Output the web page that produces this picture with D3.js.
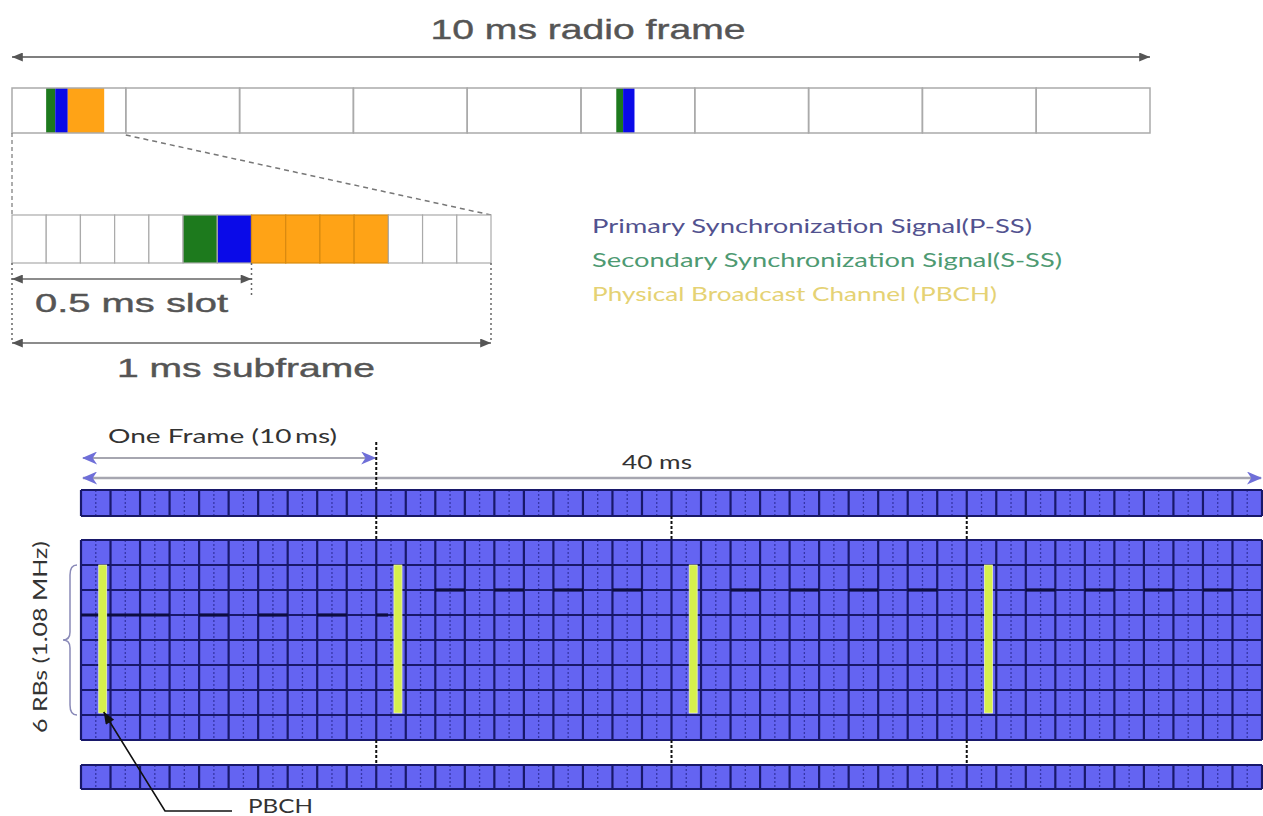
<!DOCTYPE html>
<html>
<head>
<meta charset="utf-8">
<script src="https://cdn.jsdelivr.net/npm/d3@7"></script>
<style>
  body { margin: 0; background: #fff; }
  svg { display: block; }
</style>
</head>
<body>
<svg id="chart"></svg>
<script>
var width = 1263;
var height = 816;

// ---- upper picture: one 10 ms radio frame ----
var frameTitle = '10 ms radio frame';
var subframes = [0, 1, 2, 3, 4, 5, 6, 7, 8, 9];
// [signal, start ms, end ms] inside the radio frame
var frameSignals = [
  ['SSS', 0.30, 0.38], ['PSS', 0.38, 0.49], ['PBCH', 0.49, 0.81],
  ['SSS', 5.31, 5.37], ['PSS', 5.37, 5.47]
];
// OFDM symbols of the zoomed 1 ms subframe
var symbols = [0, 1, 2, 3, 4, 5, 6, 7, 8, 9, 10, 11, 12, 13];
var symbolSignal = ['', '', '', '', '', 'SSS', 'PSS', 'PBCH', 'PBCH', 'PBCH', 'PBCH', '', '', ''];
var slotLabel = '0.5 ms slot';
var subframeLabel = '1 ms subframe';
var legendSignals = ['PSS', 'SSS', 'PBCH'];
var legendLabels = [
  'Primary Synchronization Signal(P-SS)',
  'Secondary Synchronization Signal(S-SS)',
  'Physical Broadcast Channel (PBCH)'
];

// ---- lower picture: 40 ms of resource grid ----
var totalMs = 40;
var frameStartsMs = [0, 10, 20, 30];
var gridRows = 8;
var pbchRows = [1, 7];          // 6 RBs in the centre
var pbchMs = [0.6, 0.87];       // inside each frame
// thicker row edges seen in the grid: [row edge, from ms, to ms]
var boldEdges = [
  [3, 0, 3], [3, 4, 5], [3, 6, 7], [3, 8, 9], [3, 10, 10.4],
  [2, 12, 13], [2, 14, 15], [2, 16, 17], [2, 18, 19],
  [2, 22, 23], [2, 24, 25], [2, 26, 27], [2, 28, 29],
  [2, 32, 33], [2, 34, 35], [2, 36, 37], [2, 38, 39]
];
var oneFrameLabel = 'One Frame (10\u2009ms)';
var fortyLabel = '40 ms';
var rbLabel = '6 RBs (1.08 MHz)';
var pbchLabel = 'PBCH';

var signalColor = { SSS: '#1d7a1d', PSS: '#0a0ae8', PBCH: '#ffa316' };
var legendColor = { PSS: '#52528f', SSS: '#4e9a72', PBCH: '#e5d274' };
var gridBlue = '#6464f2';
var gridLine = '#18186a';

var svg = d3.select('#chart').attr('width', width).attr('height', height);
var defs = svg.append('defs');

defs.append('marker').attr('id', 'grayHead')
  .attr('viewBox', '0 0 12 10').attr('refX', 12).attr('refY', 5)
  .attr('markerUnits', 'userSpaceOnUse').attr('markerWidth', 13).attr('markerHeight', 9)
  .attr('orient', 'auto-start-reverse')
  .append('path').attr('d', 'M0,0 L12,5 L0,10 Z').attr('fill', '#555');

defs.append('marker').attr('id', 'purpleHead')
  .attr('viewBox', '0 0 14 12').attr('refX', 13).attr('refY', 6)
  .attr('markerUnits', 'userSpaceOnUse').attr('markerWidth', 16).attr('markerHeight', 13)
  .attr('orient', 'auto-start-reverse')
  .append('path').attr('d', 'M0,0 L14,6 L0,12 L4,6 Z').attr('fill', '#6f6fd8');

defs.append('marker').attr('id', 'blackHead')
  .attr('viewBox', '0 0 12 10').attr('refX', 12).attr('refY', 5)
  .attr('markerUnits', 'userSpaceOnUse').attr('markerWidth', 13).attr('markerHeight', 10)
  .attr('orient', 'auto')
  .append('path').attr('d', 'M0,0 L12,5 L0,10 Z').attr('fill', '#111');

// ================= upper picture =================
var xFrame = d3.scaleLinear().domain([0, 10]).range([12, 1150]);
var frameTop = 88, frameBottom = 133;

svg.append('text')
  .attr('x', 588).attr('y', 39)
  .attr('text-anchor', 'middle')
  .attr('font-family', 'Liberation Sans, Arial, sans-serif')
  .attr('font-size', 28).attr('fill', '#555')
  .attr('stroke', '#555').attr('stroke-width', 0.4)
  .attr('textLength', 315).attr('lengthAdjust', 'spacingAndGlyphs')
  .text(frameTitle);

svg.append('line')
  .attr('x1', xFrame(0)).attr('x2', xFrame(10)).attr('y1', 57).attr('y2', 57)
  .attr('stroke', '#555').attr('stroke-width', 1.5)
  .attr('marker-start', 'url(#grayHead)').attr('marker-end', 'url(#grayHead)');

var frameG = svg.append('g');
frameG.selectAll('.sig').data(frameSignals).join('rect')
  .attr('class', 'sig')
  .attr('x', function(d) { return xFrame(d[1]); })
  .attr('width', function(d) { return xFrame(d[2]) - xFrame(d[1]); })
  .attr('y', frameTop).attr('height', frameBottom - frameTop)
  .attr('fill', function(d) { return signalColor[d[0]]; });
frameG.selectAll('.sf').data(subframes).join('rect')
  .attr('class', 'sf')
  .attr('x', function(d) { return xFrame(d); })
  .attr('width', xFrame(1) - xFrame(0))
  .attr('y', frameTop).attr('height', frameBottom - frameTop)
  .attr('fill', 'none').attr('stroke', '#aaa').attr('stroke-width', 1.5);

// zoomed subframe
var xSym = d3.scaleLinear().domain([0, 14]).range([12, 491]);
var symTop = 215, symBottom = 263;

svg.append('line')
  .attr('x1', xFrame(0)).attr('y1', frameBottom).attr('x2', xSym(0)).attr('y2', symTop)
  .attr('stroke', '#777').attr('stroke-width', 1.2).attr('stroke-dasharray', '4,3');
svg.append('line')
  .attr('x1', xFrame(1)).attr('y1', frameBottom + 2).attr('x2', xSym(14)).attr('y2', symTop)
  .attr('stroke', '#777').attr('stroke-width', 1.5).attr('stroke-dasharray', '5,4');

var symG = svg.append('g');
symG.selectAll('rect').data(symbols).join('rect')
  .attr('x', function(d) { return xSym(d); })
  .attr('width', xSym(1) - xSym(0))
  .attr('y', symTop).attr('height', symBottom - symTop)
  .attr('fill', function(d) { return symbolSignal[d] ? signalColor[symbolSignal[d]] : '#fff'; })
  .attr('stroke', function(d) { return symbolSignal[d] === 'PBCH' ? '#d88a10' : '#aaa'; })
  .attr('stroke-width', 1.2);

// slot / subframe dimension arrows
var dimColor = '#666';
[[xSym(7), symBottom, 296], [xSym(0), symBottom, 343], [xSym(14), symBottom, 343]].forEach(function(v) {
  svg.append('line')
    .attr('x1', v[0]).attr('x2', v[0]).attr('y1', v[1]).attr('y2', v[2])
    .attr('stroke', dimColor).attr('stroke-width', 1.5).attr('stroke-dasharray', '2,3');
});
svg.append('line')
  .attr('x1', xSym(0)).attr('x2', xSym(7)).attr('y1', 279).attr('y2', 279)
  .attr('stroke', dimColor).attr('stroke-width', 1.5)
  .attr('marker-start', 'url(#grayHead)').attr('marker-end', 'url(#grayHead)');
svg.append('line')
  .attr('x1', xSym(0)).attr('x2', xSym(14)).attr('y1', 343).attr('y2', 343)
  .attr('stroke', dimColor).attr('stroke-width', 1.5)
  .attr('marker-start', 'url(#grayHead)').attr('marker-end', 'url(#grayHead)');

svg.append('text')
  .attr('x', 35).attr('y', 312)
  .attr('font-family', 'Liberation Sans, Arial, sans-serif')
  .attr('font-size', 25).attr('fill', '#555')
  .attr('stroke', '#555').attr('stroke-width', 0.4)
  .attr('textLength', 193).attr('lengthAdjust', 'spacingAndGlyphs')
  .text(slotLabel);
svg.append('text')
  .attr('x', 117).attr('y', 377)
  .attr('font-family', 'Liberation Sans, Arial, sans-serif')
  .attr('font-size', 25).attr('fill', '#555')
  .attr('stroke', '#555').attr('stroke-width', 0.4)
  .attr('textLength', 258).attr('lengthAdjust', 'spacingAndGlyphs')
  .text(subframeLabel);

// legend
var legendWidths = [440, 470, 405];
svg.append('g').selectAll('text').data(legendSignals).join('text')
  .attr('x', 592)
  .attr('y', function(d, i) { return 233 + i * 34; })
  .attr('font-family', 'Lato, Open Sans, sans-serif')
  .attr('font-size', 20)
  .attr('fill', function(d) { return legendColor[d]; })
  .attr('textLength', function(d, i) { return legendWidths[i]; })
  .attr('lengthAdjust', 'spacingAndGlyphs')
  .text(function(d, i) { return legendLabels[i]; });

// ================= lower picture =================
var xGrid = d3.scaleLinear().domain([0, totalMs]).range([81, 1262]);
var yGrid = d3.scaleLinear().domain([0, gridRows]).range([540, 740]);
var strips = [
  { top: 490, bottom: 516, rows: 1 },
  { top: yGrid(0), bottom: yGrid(gridRows), rows: gridRows },
  { top: 765, bottom: 789, rows: 1 }
];
var msList = d3.range(totalMs);

// frame / 40 ms arrows
var arrowGray = '#a6a6b0';
svg.append('line')
  .attr('x1', xGrid(0) + 2).attr('x2', xGrid(10) - 1).attr('y1', 458).attr('y2', 458)
  .attr('stroke', arrowGray).attr('stroke-width', 2)
  .attr('marker-start', 'url(#purpleHead)').attr('marker-end', 'url(#purpleHead)');
svg.append('line')
  .attr('x1', xGrid(0) + 2).attr('x2', xGrid(totalMs) - 1).attr('y1', 478).attr('y2', 478)
  .attr('stroke', arrowGray).attr('stroke-width', 2.5)
  .attr('marker-start', 'url(#purpleHead)').attr('marker-end', 'url(#purpleHead)');

svg.append('text')
  .attr('x', 108).attr('y', 443)
  .attr('font-family', 'Lato, Open Sans, sans-serif')
  .attr('font-size', 20).attr('fill', '#333')
  .attr('textLength', 229).attr('lengthAdjust', 'spacingAndGlyphs')
  .text(oneFrameLabel);
svg.append('text')
  .attr('x', 622).attr('y', 469)
  .attr('font-family', 'Lato, Open Sans, sans-serif')
  .attr('font-size', 20).attr('fill', '#333')
  .attr('textLength', 70).attr('lengthAdjust', 'spacingAndGlyphs')
  .text(fortyLabel);

var gridG = svg.append('g');
strips.forEach(function(s) {
  var g = gridG.append('g');
  var yS = d3.scaleLinear().domain([0, s.rows]).range([s.top, s.bottom]);
  g.append('rect')
    .attr('x', xGrid(0)).attr('width', xGrid(totalMs) - xGrid(0))
    .attr('y', s.top).attr('height', s.bottom - s.top)
    .attr('fill', gridBlue);
  // slot boundaries (dotted)
  g.selectAll('.slot').data(msList).join('line')
    .attr('class', 'slot')
    .attr('x1', function(d) { return xGrid(d + 0.5); })
    .attr('x2', function(d) { return xGrid(d + 0.5); })
    .attr('y1', s.top).attr('y2', s.bottom)
    .attr('stroke', '#2a2a95').attr('stroke-width', 1.3)
    .attr('stroke-dasharray', '2,2').attr('opacity', 0.8);
  // row edges
  g.selectAll('.row').data(d3.range(s.rows + 1)).join('line')
    .attr('class', 'row')
    .attr('x1', xGrid(0)).attr('x2', xGrid(totalMs))
    .attr('y1', function(d) { return yS(d); })
    .attr('y2', function(d) { return yS(d); })
    .attr('stroke', gridLine).attr('stroke-width', 2);
  // subframe boundaries
  g.selectAll('.sf').data(msList.concat([totalMs])).join('line')
    .attr('class', 'sf')
    .attr('x1', function(d) { return xGrid(d); })
    .attr('x2', function(d) { return xGrid(d); })
    .attr('y1', s.top).attr('y2', s.bottom)
    .attr('stroke', gridLine).attr('stroke-width', 2.2);
});

gridG.selectAll('.bold').data(boldEdges).join('line')
  .attr('class', 'bold')
  .attr('x1', function(d) { return xGrid(d[1]); })
  .attr('x2', function(d) { return xGrid(d[2]); })
  .attr('y1', function(d) { return yGrid(d[0]); })
  .attr('y2', function(d) { return yGrid(d[0]); })
  .attr('stroke', '#0d0d40').attr('stroke-width', 3.2);

// frame boundary dotted markers
var frameEdges = frameStartsMs.slice(1);
frameEdges.forEach(function(ms, i) {
  var x = xGrid(ms);
  var spans = [[strips[0].bottom, strips[1].top], [strips[1].bottom, strips[2].top]];
  if (i === 0) spans.push([442, strips[0].top]);
  spans.forEach(function(sp) {
    svg.append('line')
      .attr('x1', x).attr('x2', x).attr('y1', sp[0]).attr('y2', sp[1])
      .attr('stroke', '#111').attr('stroke-width', 2).attr('stroke-dasharray', '3,2');
  });
});

// PBCH bars
svg.append('g').selectAll('rect').data(frameStartsMs).join('rect')
  .attr('x', function(d) { return xGrid(d + pbchMs[0]); })
  .attr('width', function(d) { return xGrid(d + pbchMs[1]) - xGrid(d + pbchMs[0]); })
  .attr('y', yGrid(pbchRows[0])).attr('height', yGrid(pbchRows[1]) - yGrid(pbchRows[0]) - 2)
  .attr('fill', '#d6f04c').attr('stroke', '#eef8b0').attr('stroke-width', 0.8);

// 6 RB brace and label
var bTop = yGrid(pbchRows[0]), bBot = yGrid(pbchRows[1]), bMid = (bTop + bBot) / 2;
var xr = 77, xm = 70, xl = 63;
var brace = d3.path();
brace.moveTo(xr, bTop);
brace.quadraticCurveTo(xm, bTop, xm, bTop + 10);
brace.lineTo(xm, bMid - 8);
brace.quadraticCurveTo(xm, bMid, xl, bMid);
brace.quadraticCurveTo(xm, bMid, xm, bMid + 8);
brace.lineTo(xm, bBot - 10);
brace.quadraticCurveTo(xm, bBot, xr, bBot);
svg.append('path').attr('d', brace.toString())
  .attr('fill', 'none').attr('stroke', '#8a8ab8').attr('stroke-width', 1.5);

svg.append('text')
  .attr('transform', 'translate(47,' + 637 + ') rotate(-90)')
  .attr('text-anchor', 'middle')
  .attr('font-family', 'Lato, Open Sans, sans-serif')
  .attr('font-size', 20).attr('fill', '#333')
  .attr('textLength', 192).attr('lengthAdjust', 'spacingAndGlyphs')
  .text(rbLabel);

// PBCH pointer
var tipX = xGrid((pbchMs[0] + pbchMs[1]) / 2) + 1;
var tipY = yGrid(pbchRows[1]) - 3;
svg.append('path')
  .attr('d', 'M232,811 L165,811 L' + tipX + ',' + tipY)
  .attr('fill', 'none').attr('stroke', '#111').attr('stroke-width', 1.6)
  .attr('marker-end', 'url(#blackHead)');
svg.append('text')
  .attr('x', 248).attr('y', 813)
  .attr('font-family', 'Lato, Open Sans, sans-serif')
  .attr('font-size', 20).attr('fill', '#333')
  .attr('textLength', 65).attr('lengthAdjust', 'spacingAndGlyphs')
  .text(pbchLabel);
</script>
</body>
</html>
